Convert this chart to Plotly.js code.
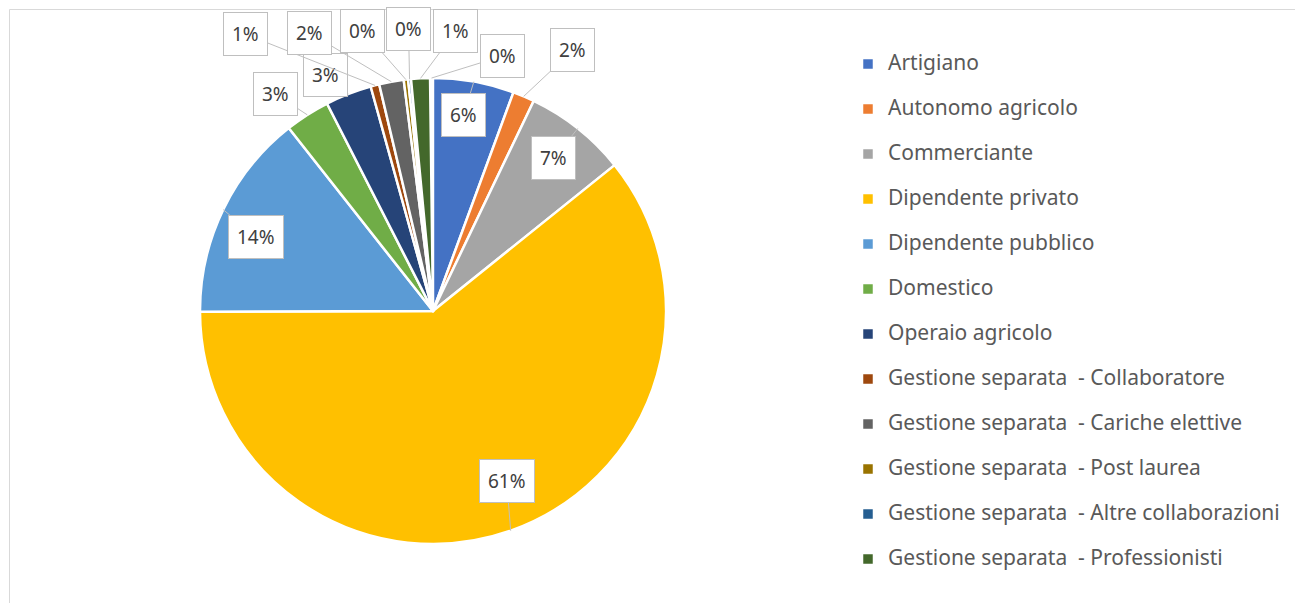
<!DOCTYPE html>
<html>
<head>
<meta charset="utf-8">
<script src="https://cdn.plot.ly/plotly-3.0.1.min.js"></script>
<style>
  html, body { margin: 0; padding: 0; background: #fff; }
  #chart { width: 1295px; height: 603px; }
  /* testo legenda più grande, la spaziatura delle righe resta quella calcolata a 16px */
  .legendtext { font-size: 21px !important; }
</style>
</head>
<body>
<div id="chart"></div>
<script>
// categorie in ordine orario; la prima (voce di legenda cancellata) chiude il giro alle ore 12
let categories = [
  " ",
  "Artigiano",
  "Autonomo agricolo",
  "Commerciante",
  "Dipendente privato",
  "Dipendente pubblico",
  "Domestico",
  "Operaio agricolo",
  "Gestione separata  - Collaboratore",
  "Gestione separata  - Cariche elettive",
  "Gestione separata  - Post laurea",
  "Gestione separata  - Altre collaborazioni",
  "Gestione separata  - Professionisti"
];
let shares = [0.2, 5.6, 1.5, 7.1, 60.6, 14.4, 3.1, 3.2, 0.6, 1.7, 0.3, 0.2, 1.3];

let colors = ["rgba(0,0,0,0)",
              "#4472C4", "#ED7D31", "#A5A5A5", "#FFC000", "#5B9BD5", "#70AD47",
              "#264478", "#9E480E", "#636363", "#997300", "#255E91", "#43682B"];

// spostamento (px) del riquadro etichetta rispetto al punto sul bordo della fetta
let boxDx = [71, -10, 49, -24, -4, 33, -32, -23, -129, -82, -43, -1, 35];
let boxDy = [-22, 33, -46, 30, -50, 27, -21, -19, -51, -49, -49, -50, -47];

let W = 1295, H = 603;
let dom = {x: [0.1544, 0.5143], y: [0.0978, 0.8706]};
let cx = W * (dom.x[0] + dom.x[1]) / 2;
let cy = H * (dom.y[0] + dom.y[1]) / 2;
let R = Math.min(W * (dom.x[1] - dom.x[0]), H * (dom.y[1] - dom.y[0])) / 2;

let total = shares.reduce((a, b) => a + b, 0);
let rot = -shares[0] / total * 360;
let cum = 0;
let annotations = shares.map((v, i) => {
  let mid = (cum + v / 2) / total * 2 * Math.PI + rot * Math.PI / 180;
  cum += v;
  return {
    xref: "paper", yref: "paper",
    x: (cx + R * Math.sin(mid)) / W,
    y: (cy + R * Math.cos(mid)) / H,
    text: Math.round(v / total * 100) + "%",
    showarrow: true, arrowhead: 0, arrowwidth: 1, arrowcolor: "#bfbfbf",
    ax: boxDx[i], ay: boxDy[i],
    bgcolor: "#ffffff", bordercolor: "#bfbfbf", borderwidth: 1, borderpad: 8,
    font: {family: "Noto Sans, Open Sans, sans-serif", size: 19, color: "#404040"}
  };
});

let trace = {
  type: "pie",
  labels: categories.map((c, i) => i === 0 ? c : c + "<br> "),
  values: shares,
  sort: false,
  direction: "clockwise",
  rotation: rot,
  textinfo: "none",
  hoverinfo: "label+percent",
  marker: {colors: colors, line: {color: "#ffffff", width: 2.5}},
  domain: dom
};

let layout = {
  width: W, height: H,
  margin: {l: 0, r: 0, t: 0, b: 0},
  paper_bgcolor: "#ffffff",
  showlegend: true,
  legend: {
    x: 848 / W, xanchor: "left",
    y: 1 - 23 / H, yanchor: "top",
    valign: "top",
    font: {family: "Noto Sans, Open Sans, sans-serif", size: 16.15, color: "#595959"}
  },
  annotations: annotations,
  shapes: [{
    type: "rect", xref: "paper", yref: "paper",
    x0: 9.5 / W, x1: 1.01, y0: -0.01, y1: 1 - 9.5 / H,
    line: {color: "#d9d9d9", width: 1}
  }]
};

Plotly.newPlot("chart", [trace], layout, {displayModeBar: false});
</script>
</body>
</html>
